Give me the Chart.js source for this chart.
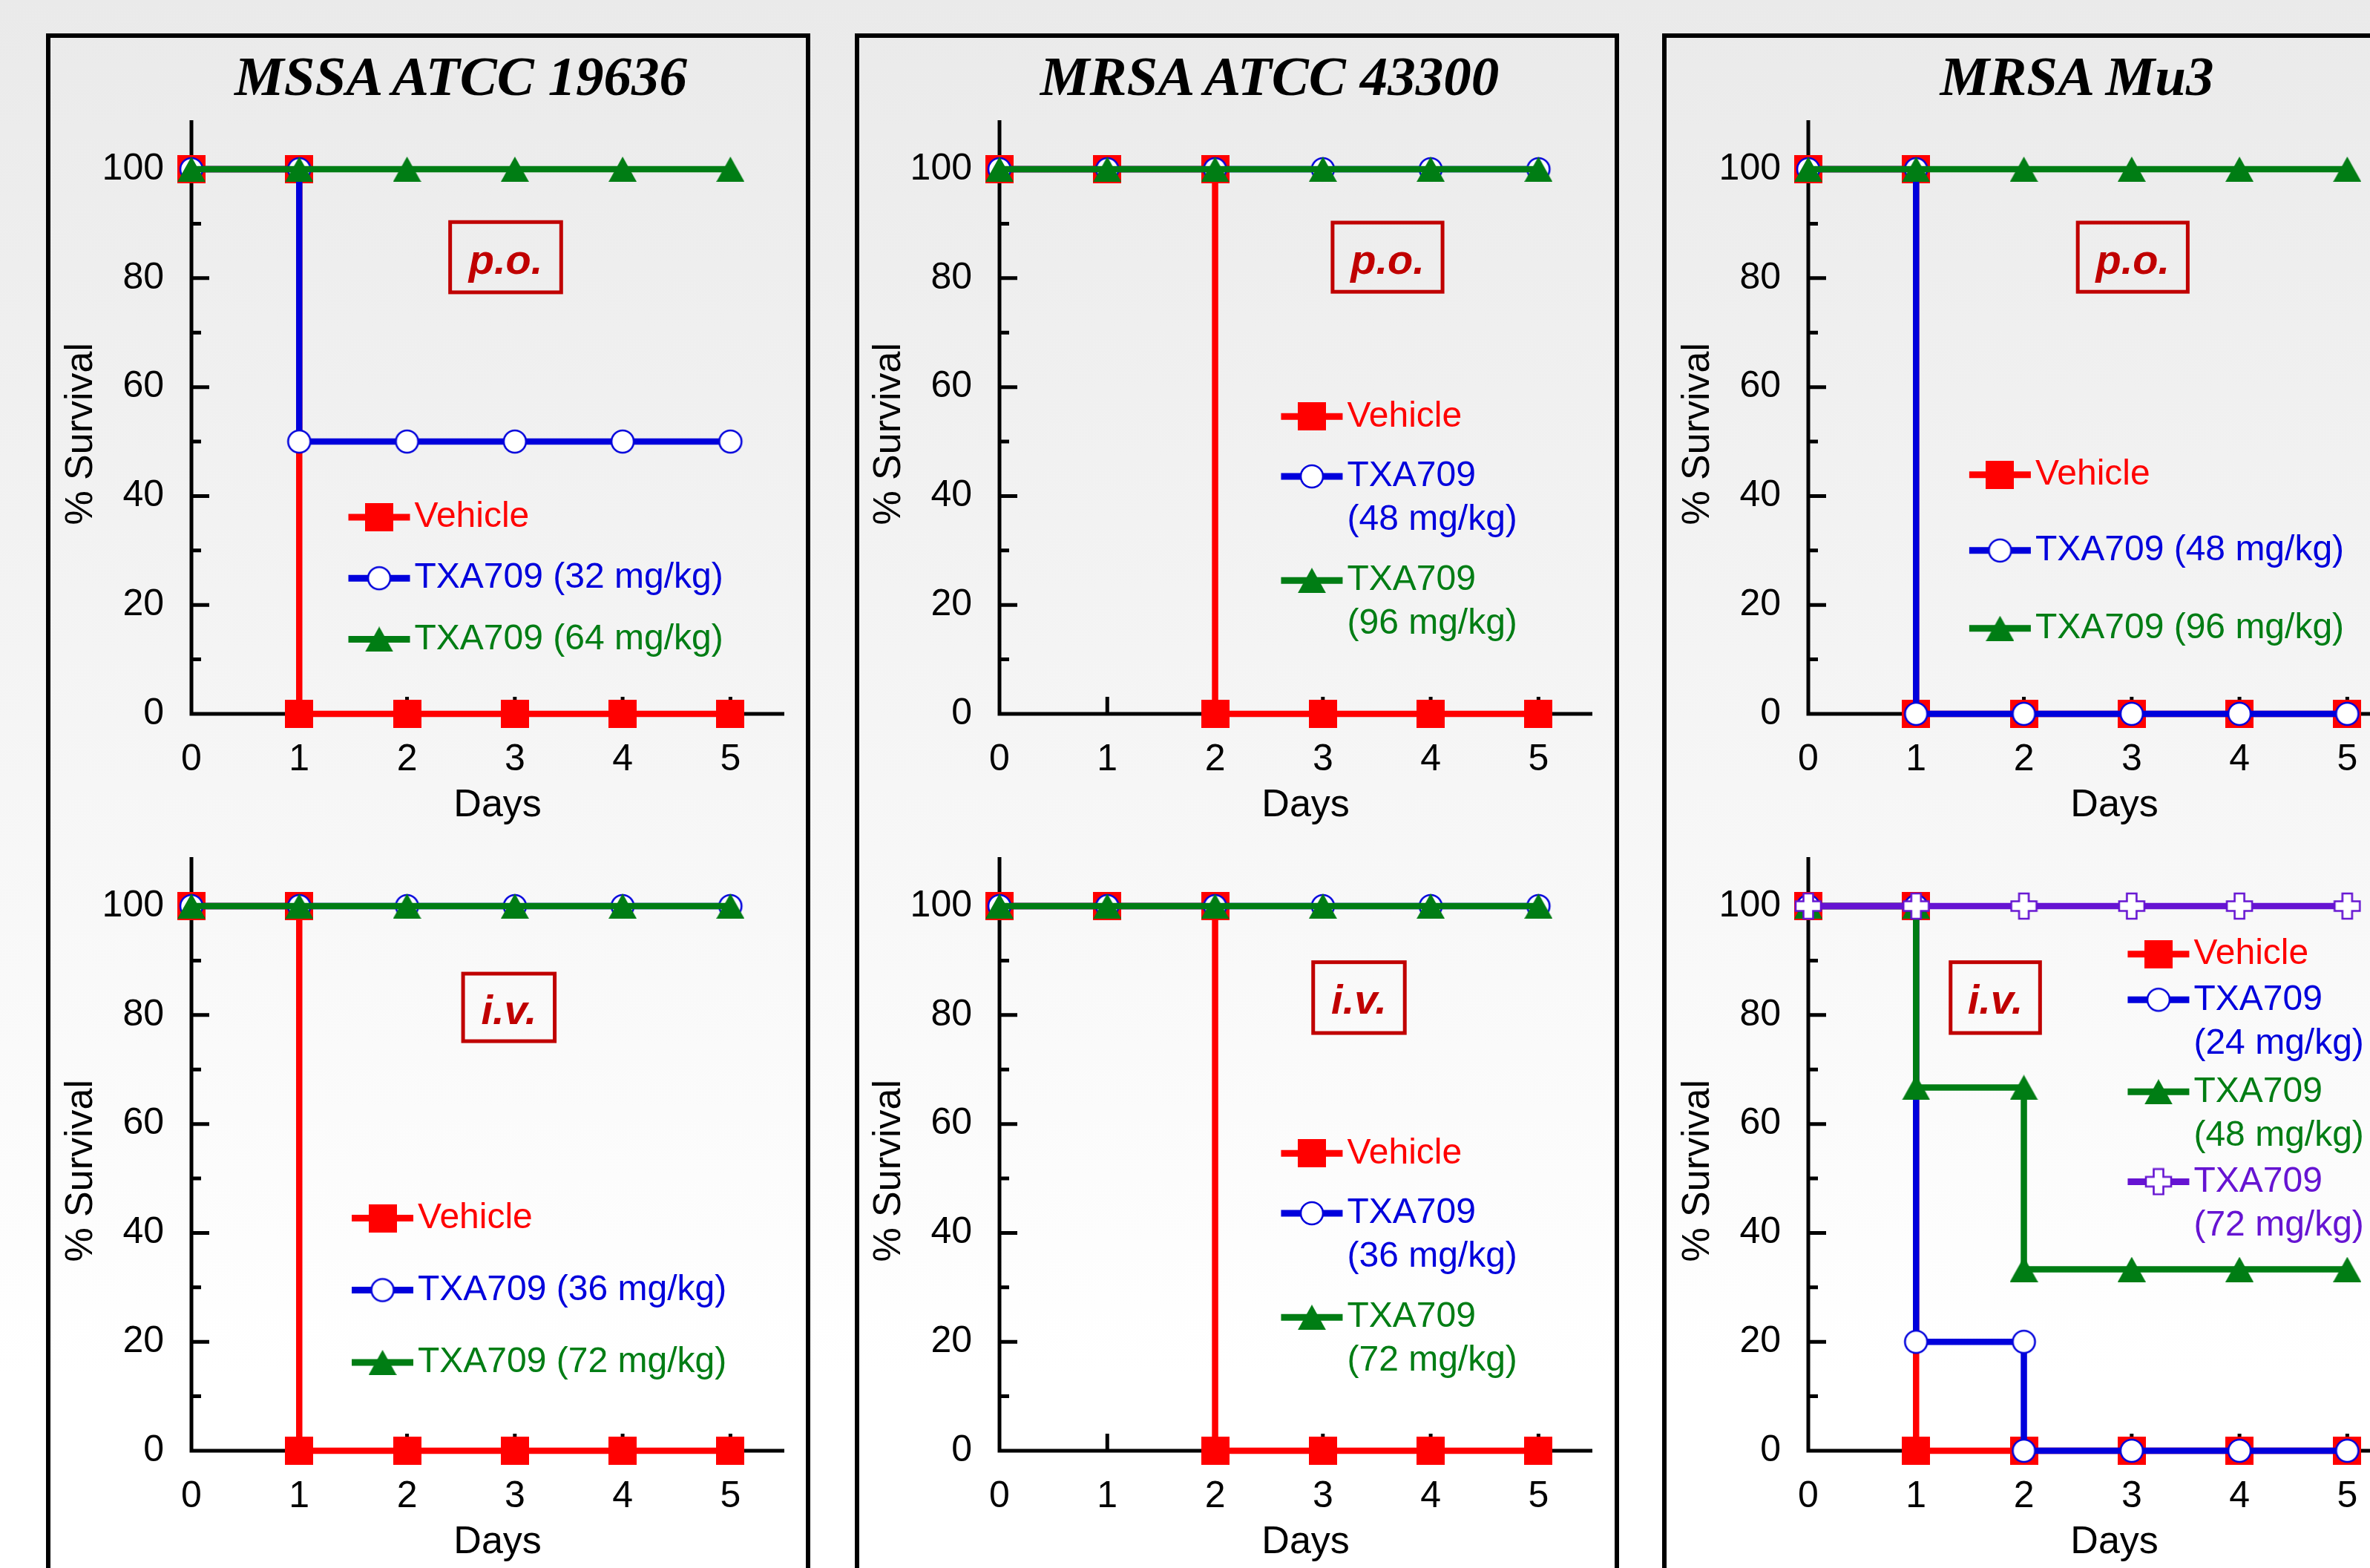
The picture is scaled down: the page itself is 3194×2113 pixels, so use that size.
<!DOCTYPE html>
<html>
<head>
<meta charset="utf-8">
<script src="https://cdn.jsdelivr.net/npm/chart.js@4.4.1/dist/chart.umd.min.js"></script>
<style>
    html, body { margin: 0; padding: 0; }
    body {
        position: relative;
        width: 3194px;
        height: 2113px;
        overflow: hidden;
        background: linear-gradient(#EAEAEA 0px, #FFFFFF 1850px);
        font-family: "Liberation Sans", Arial, sans-serif;
    }
    .panel {
        position: absolute;
        top: 45px;
        width: 1030px;
        height: 2200px;
        box-sizing: border-box;
        border: 6px solid #000;
    }
    .title {
        position: absolute;
        top: 65px;
        width: 1000px;
        text-align: center;
        font: italic bold 75px/75px "Liberation Serif", "Times New Roman", serif;
        color: #000;
        white-space: nowrap;
    }
    canvas { position: absolute; }
</style>
</head>
<body>
<script>
// ---- data (% survival per day) ----
const panelTitles = ["MSSA ATCC 19636", "MRSA ATCC 43300", "MRSA Mu3"];
const routeLabels = ["p.o.", "i.v."];
const xTitle = "Days";
const yTitle = "% Survival";

// MSSA ATCC 19636
const mssaPoVehicle = [[0, 100], [1, 100], [1, 0], [2, 0], [3, 0], [4, 0], [5, 0]];
const mssaPoLow     = [[0, 100], [1, 100], [1, 50], [2, 50], [3, 50], [4, 50], [5, 50]];
const mssaPoHigh    = [[0, 100], [1, 100], [2, 100], [3, 100], [4, 100], [5, 100]];
const mssaPoLabels  = ["Vehicle", "TXA709 (32 mg/kg)", "TXA709 (64 mg/kg)"];

const mssaIvVehicle = [[0, 100], [1, 100], [1, 0], [2, 0], [3, 0], [4, 0], [5, 0]];
const mssaIvLow     = [[0, 100], [1, 100], [2, 100], [3, 100], [4, 100], [5, 100]];
const mssaIvHigh    = [[0, 100], [1, 100], [2, 100], [3, 100], [4, 100], [5, 100]];
const mssaIvLabels  = ["Vehicle", "TXA709 (36 mg/kg)", "TXA709 (72 mg/kg)"];

// MRSA ATCC 43300
const atccPoVehicle = [[0, 100], [1, 100], [2, 100], [2, 0], [3, 0], [4, 0], [5, 0]];
const atccPoLow     = [[0, 100], [1, 100], [2, 100], [3, 100], [4, 100], [5, 100]];
const atccPoHigh    = [[0, 100], [1, 100], [2, 100], [3, 100], [4, 100], [5, 100]];
const atccPoLabels  = ["Vehicle", ["TXA709", "(48 mg/kg)"], ["TXA709", "(96 mg/kg)"]];

const atccIvVehicle = [[0, 100], [1, 100], [2, 100], [2, 0], [3, 0], [4, 0], [5, 0]];
const atccIvLow     = [[0, 100], [1, 100], [2, 100], [3, 100], [4, 100], [5, 100]];
const atccIvHigh    = [[0, 100], [1, 100], [2, 100], [3, 100], [4, 100], [5, 100]];
const atccIvLabels  = ["Vehicle", ["TXA709", "(36 mg/kg)"], ["TXA709", "(72 mg/kg)"]];

// MRSA Mu3
const mu3PoVehicle  = [[0, 100], [1, 100], [1, 0], [2, 0], [3, 0], [4, 0], [5, 0]];
const mu3PoLow      = [[0, 100], [1, 100], [1, 0], [2, 0], [3, 0], [4, 0], [5, 0]];
const mu3PoHigh     = [[0, 100], [1, 100], [2, 100], [3, 100], [4, 100], [5, 100]];
const mu3PoLabels   = ["Vehicle", "TXA709 (48 mg/kg)", "TXA709 (96 mg/kg)"];

const mu3IvVehicle  = [[0, 100], [1, 100], [1, 0], [2, 0], [3, 0], [4, 0], [5, 0]];
const mu3IvLow      = [[0, 100], [1, 100], [1, 20], [2, 20], [2, 0], [3, 0], [4, 0], [5, 0]];
const mu3IvMid      = [[0, 100], [1, 100], [1, 66.7], [2, 66.7], [2, 33.3], [3, 33.3], [4, 33.3], [5, 33.3]];
const mu3IvHigh     = [[0, 100], [1, 100], [2, 100], [3, 100], [4, 100], [5, 100]];
const mu3IvLabels   = ["Vehicle", ["TXA709", "(24 mg/kg)"], ["TXA709", "(48 mg/kg)"], ["TXA709", "(72 mg/kg)"]];

// ---- styles and layout ----
const FONT = '"Liberation Sans", Arial, sans-serif';
const seriesColors  = ["#FF0000", "#0000DC", "#007D14", "#6614D2"];
const seriesMarkers = ["square", "circle", "triangle", "cross"];
const ROUTE_RED = "#C00000";

const panelLeft = [62, 1152, 2240];     // outer left edge of each framed panel
const axisX     = [258, 1347, 2437];    // pixel of day 0 in each panel
const rowTop    = [162, 1155];          // pixel of the y axis top (value 109)
const Y_MAX = 109, X_MAX = 5.5;
const PAD_TOP = 62;                     // y tick label half height + tick padding

Chart.defaults.font.family = FONT;

function makeMarker(kind, color) {
    const c = document.createElement('canvas');
    const g = c.getContext('2d');
    if(kind === 'square') {
        c.width = c.height = 38;
        g.fillStyle = color;
        g.fillRect(0, 0, 38, 38);
    } else if(kind === 'circle') {
        c.width = c.height = 36;
        g.beginPath();
        g.arc(18, 18, 15, 0, Math.PI * 2);
        g.fillStyle = '#FFFFFF';
        g.fill();
        g.lineWidth = 2.6;
        g.strokeStyle = color;
        g.stroke();
    } else if(kind === 'triangle') {
        c.width = 38; c.height = 34;
        g.beginPath();
        g.moveTo(19, 0); g.lineTo(38, 34); g.lineTo(0, 34);
        g.closePath();
        g.fillStyle = color;
        g.fill();
    } else {
        c.width = c.height = 38;
        const m = 19, a = 6.5, h = 17;
        const pts = [[-a, -h], [a, -h], [a, -a], [h, -a], [h, a], [a, a],
                     [a, h], [-a, h], [-a, a], [-h, a], [-h, -a], [-a, -a]];
        g.beginPath();
        pts.forEach(([px, py], i) => i ? g.lineTo(m + px, m + py) : g.moveTo(m + px, m + py));
        g.closePath();
        g.fillStyle = '#FFFFFF';
        g.fill();
        g.lineWidth = 2.6;
        g.strokeStyle = color;
        g.stroke();
    }
    return c;
}
const markers = seriesMarkers.map((k, i) => makeMarker(k, seriesColors[i]));

// axis lines with ticks pointing into the plot, plus the axis titles
const inwardAxes = {
    id: 'inwardAxes',
    beforeDatasetsDraw(chart) {
        const {ctx, chartArea, scales: {x, y}} = chart;
        const ox = x.getPixelForValue(0), oy = y.getPixelForValue(0);
        ctx.save();
        ctx.strokeStyle = '#000';
        ctx.lineWidth = 5;
        ctx.beginPath();
        ctx.moveTo(ox, oy + 2.5); ctx.lineTo(ox, chartArea.top);
        ctx.moveTo(ox - 2.5, oy); ctx.lineTo(chartArea.right, oy);
        const yt = y.ticks.map(t => t.value);
        yt.forEach((v, i) => {
            const py = y.getPixelForValue(v);
            ctx.moveTo(ox, py); ctx.lineTo(ox + 24, py);
            if(i < yt.length - 1) {
                const pm = y.getPixelForValue((v + yt[i + 1]) / 2);
                ctx.moveTo(ox, pm); ctx.lineTo(ox + 13, pm);
            }
        });
        for(const t of x.ticks) {
            if(t.value === 0) continue;
            const px = x.getPixelForValue(t.value);
            ctx.moveTo(px, oy); ctx.lineTo(px, oy - 23);
        }
        ctx.stroke();

        // titles: the original places them a little off the axis centres
        ctx.fillStyle = '#000';
        ctx.font = '52px ' + FONT;
        ctx.textAlign = 'center';
        ctx.textBaseline = 'middle';
        ctx.fillText(xTitle, x.getPixelForValue(2.84), oy + 124);
        ctx.translate(ox - 148, y.getPixelForValue(51.4));
        ctx.rotate(-Math.PI / 2);
        ctx.fillText(yTitle, 0, 0);
        ctx.restore();
    },
};

// "p.o." / "i.v." boxed label
const routeBox = {
    id: 'routeBox',
    afterDatasetsDraw(chart, args, opts) {
        const {ctx, scales: {x, y}} = chart;
        const [x1, x2, y1, y2] = opts.box;
        const l = x.getPixelForValue(x1), r = x.getPixelForValue(x2);
        const t = y.getPixelForValue(y1), b = y.getPixelForValue(y2);
        ctx.save();
        ctx.strokeStyle = ROUTE_RED;
        ctx.lineWidth = 5;
        ctx.strokeRect(l, t, r - l, b - t);
        ctx.fillStyle = ROUTE_RED;
        ctx.font = 'italic bold 56px ' + FONT;
        ctx.textAlign = 'center';
        ctx.textBaseline = 'alphabetic';
        ctx.fillText(opts.text, (l + r) / 2, (t + b) / 2 + 22);
        ctx.restore();
    },
};

// key drawn inside the plot area
const seriesKey = {
    id: 'seriesKey',
    afterDatasetsDraw(chart, args, opts) {
        const {ctx, scales: {x, y}} = chart;
        const lx = x.getPixelForValue(opts.x);
        ctx.save();
        ctx.font = '48px ' + FONT;
        ctx.textAlign = 'left';
        ctx.textBaseline = 'middle';
        chart.data.datasets.forEach((ds, i) => {
            const py = y.getPixelForValue(opts.rows[i]);
            ctx.strokeStyle = ds.borderColor;
            ctx.lineWidth = 9;
            ctx.beginPath();
            ctx.moveTo(lx, py); ctx.lineTo(lx + 83, py);
            ctx.stroke();
            const m = ds.pointStyle;
            ctx.drawImage(m, lx + 41.5 - m.width / 2, py - m.height / 2);
            ctx.fillStyle = ds.borderColor;
            const lines = Array.isArray(ds.label) ? ds.label : [ds.label];
            lines.forEach((s, k) => ctx.fillText(s, lx + 89, py + k * 59));
        });
        ctx.restore();
    },
};

function makeChart(panel, row, series, labels, layout) {
    const canvas = document.createElement('canvas');
    canvas.width = 1029;
    canvas.height = PAD_TOP + 800 + 150;
    canvas.style.left = (axisX[panel] - 200) + 'px';
    canvas.style.top = (rowTop[row] - PAD_TOP) + 'px';
    document.body.appendChild(canvas);

    const datasets = series.map((pts, i) => ({
        label: labels[i],
        data: pts.map(([d, v]) => ({x: d, y: v})),
        borderColor: seriesColors[i],
        borderWidth: 8.5,
        pointStyle: markers[i],
        pointRadius: 19,
        tension: 0,
        clip: false,
        order: series.length - i,
    }));

    const tickFont = {family: FONT, size: 50, lineHeight: 1};

    return new Chart(canvas.getContext('2d'), {
        type: 'line',
        data: {datasets: datasets},
        plugins: [inwardAxes, routeBox, seriesKey],
        options: {
            responsive: false,
            animation: false,
            events: [],
            layout: {padding: {left: 0, top: PAD_TOP, right: 30, bottom: 0}},
            plugins: {
                legend: {display: false},
                tooltip: {enabled: false},
                routeBox: {text: routeLabels[row], box: layout.box},
                seriesKey: {x: layout.keyX, rows: layout.keyRows},
            },
            scales: {
                x: {
                    type: 'linear', min: 0, max: X_MAX,
                    afterFit: s => { s.height = 150; },
                    grid: {display: false, drawTicks: false, tickLength: 0},
                    border: {display: false},
                    ticks: {stepSize: 1, includeBounds: false, padding: 37, color: '#000', font: tickFont},
                },
                y: {
                    type: 'linear', min: 0, max: Y_MAX,
                    afterFit: s => { s.width = 200; },
                    grid: {display: false, drawTicks: false, tickLength: 0},
                    border: {display: false},
                    ticks: {stepSize: 20, includeBounds: false, padding: 37, color: '#000', font: tickFont},
                },
            },
        },
    });
}

// frames and panel titles
panelTitles.forEach((t, i) => {
    const frame = document.createElement('div');
    frame.className = 'panel';
    frame.style.left = panelLeft[i] + 'px';
    document.body.appendChild(frame);
    const title = document.createElement('div');
    title.className = 'title';
    title.style.left = (panelLeft[i] + 3 + 556 - 500) + 'px';
    title.textContent = t;
    document.body.appendChild(title);
});

makeChart(0, 0, [mssaPoVehicle, mssaPoLow, mssaPoHigh], mssaPoLabels,
    {box: [2.40, 3.43, 90.3, 77.4], keyX: 1.456, keyRows: [36.1, 24.9, 13.7]});
makeChart(0, 1, [mssaIvVehicle, mssaIvLow, mssaIvHigh], mssaIvLabels,
    {box: [2.52, 3.37, 87.6, 75.2], keyX: 1.487, keyRows: [42.7, 29.5, 16.2]});
makeChart(1, 0, [atccPoVehicle, atccPoLow, atccPoHigh], atccPoLabels,
    {box: [3.09, 4.11, 90.2, 77.5], keyX: 2.612, keyRows: [54.6, 43.6, 24.5]});
makeChart(1, 1, [atccIvVehicle, atccIvLow, atccIvHigh], atccIvLabels,
    {box: [2.91, 3.76, 89.7, 76.7], keyX: 2.612, keyRows: [54.6, 43.6, 24.5]});
makeChart(2, 0, [mu3PoVehicle, mu3PoLow, mu3PoHigh], mu3PoLabels,
    {box: [2.50, 3.52, 90.2, 77.5], keyX: 1.493, keyRows: [43.9, 30.0, 15.7]});
makeChart(2, 1, [mu3IvVehicle, mu3IvLow, mu3IvMid, mu3IvHigh], mu3IvLabels,
    {box: [1.32, 2.15, 89.7, 76.7], keyX: 2.963, keyRows: [91.2, 82.8, 65.9, 49.4]});
</script>
</body>
</html>
